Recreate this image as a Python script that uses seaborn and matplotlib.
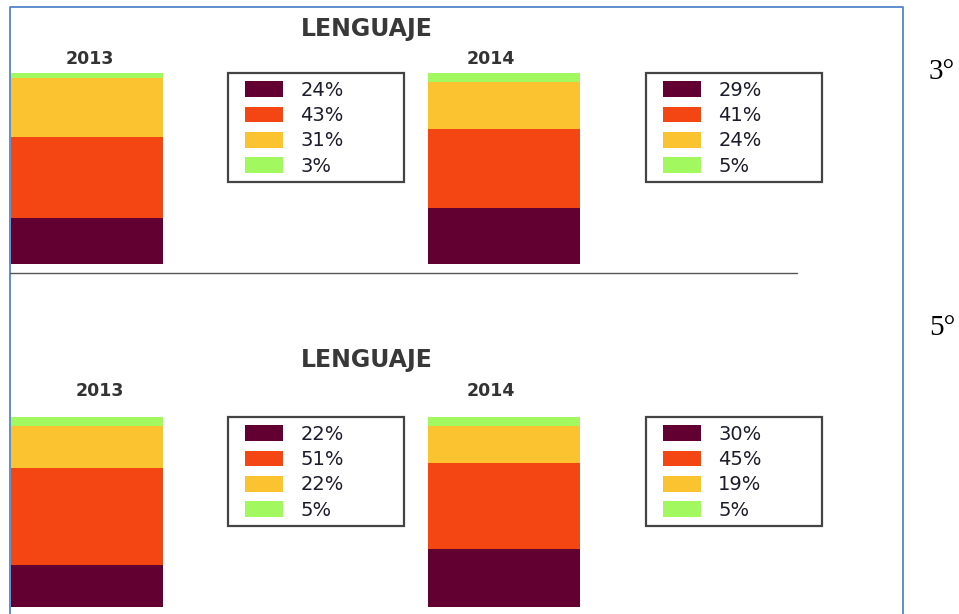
import numpy as np
import pandas as pd
import matplotlib.pyplot as plt
import seaborn as sns
from matplotlib.patches import Patch, Rectangle
from matplotlib.lines import Line2D

sns.set_theme(style='white')
plt.rcParams['font.family'] = ['DejaVu Sans']

# data (bottom -> top of each stacked bar)
years = ['2013', '2014']
colors = ['#630032', '#F34612', '#FBC32F', '#A2F95F']
g3_2013 = [24, 43, 31, 3]
g3_2014 = [29, 41, 24, 5]
g5_2013 = [22, 51, 22, 5]
g5_2014 = [30, 45, 19, 5]
title = 'LENGUAJE'
grades = ['3°', '5°']

W, H = 959, 614
fig = plt.figure(figsize=(W / 100, H / 100), dpi=100)


def px_axes(x0, y0, x1, y1):
    return fig.add_axes([x0 / W, 1 - y1 / H, (x1 - x0) / W, (y1 - y0) / H])


def stacked(ax, v13, v14):
    # normalise each bar to 100 %
    df = pd.DataFrame({'year': years * 4,
                       'layer': np.repeat(np.arange(4), 2),
                       'val': [v for pair in zip(v13, v14) for v in pair]})
    df['pct'] = df['val'] / df.groupby('year')['val'].transform('sum') * 100
    df['cum'] = df.groupby('year')['pct'].cumsum()
    # draw from the top layer down so the lower layers cover the upper ones
    for i in range(3, -1, -1):
        sub = df[df['layer'] == i]
        sns.barplot(data=sub, x='year', y='cum', order=years, color=colors[i],
                    saturation=1, width=0.3629, errorbar=None, linewidth=0, ax=ax)
    ax.set_xlim(-0.1815, 1.1815)
    ax.set_ylim(0, 100)
    ax.axis('off')


def legend_box(vals, x0, y0):
    fig.add_artist(Rectangle((x0 / W, 1 - (y0 + 109) / H), 176 / W, 109 / H,
                             transform=fig.transFigure, fill=False,
                             edgecolor='#444444', lw=1.6))
    handles = [Patch(facecolor=c, edgecolor='none') for c in colors]
    labels = [f'{v}%' for v in vals]
    fig.legend(handles, labels, loc='upper left',
               bbox_to_anchor=((x0 + 17) / W, 1 - (y0 + 8) / H),
               bbox_transform=fig.transFigure, frameon=False,
               borderpad=0, borderaxespad=0, fontsize=14,
               handlelength=1.96, handleheight=0.88, handletextpad=0.88,
               labelspacing=0.32, labelcolor='#1c1c2c')


panels = [
    dict(v13=g3_2013, v14=g3_2014, top=72.5, bot=264, ty=29, yy=59, yx=(90, 491), ly=73, gy=72),
    dict(v13=g5_2013, v14=g5_2014, top=416.5, bot=607, ty=360, yy=391, yx=(100, 491), ly=417, gy=328),
]

for p, grade in zip(panels, grades):
    ax = px_axes(11, p['top'], 580, p['bot'])
    stacked(ax, p['v13'], p['v14'])
    fig.text(367 / W, 1 - p['ty'] / H, title, ha='center', va='center',
             fontsize=17, fontweight='bold', color='#383838')
    for yr, xx in zip(years, p['yx']):
        fig.text(xx / W, 1 - p['yy'] / H, yr, ha='center', va='center',
                 fontsize=12.5, fontweight='bold', color='#333333')
    legend_box(p['v13'], 228, p['ly'])
    legend_box(p['v14'], 646, p['ly'])
    fig.text(929 / W, 1 - p['gy'] / H, grade, ha='left', va='center',
             fontsize=21, family=['Liberation Serif', 'DejaVu Serif'], color='black')

# outer frame and separator
blue = '#5585CC'
fig.add_artist(Line2D([9.5 / W, 9.5 / W, 903 / W, 903 / W], [0, 1 - 7 / H, 1 - 7 / H, 0],
                      transform=fig.transFigure, color=blue, lw=1.3))
fig.add_artist(Line2D([10 / W, 797 / W], [1 - 273 / H, 1 - 273 / H],
                      transform=fig.transFigure, color='#555555', lw=1.0))

fig.savefig('out.png', dpi=100)
